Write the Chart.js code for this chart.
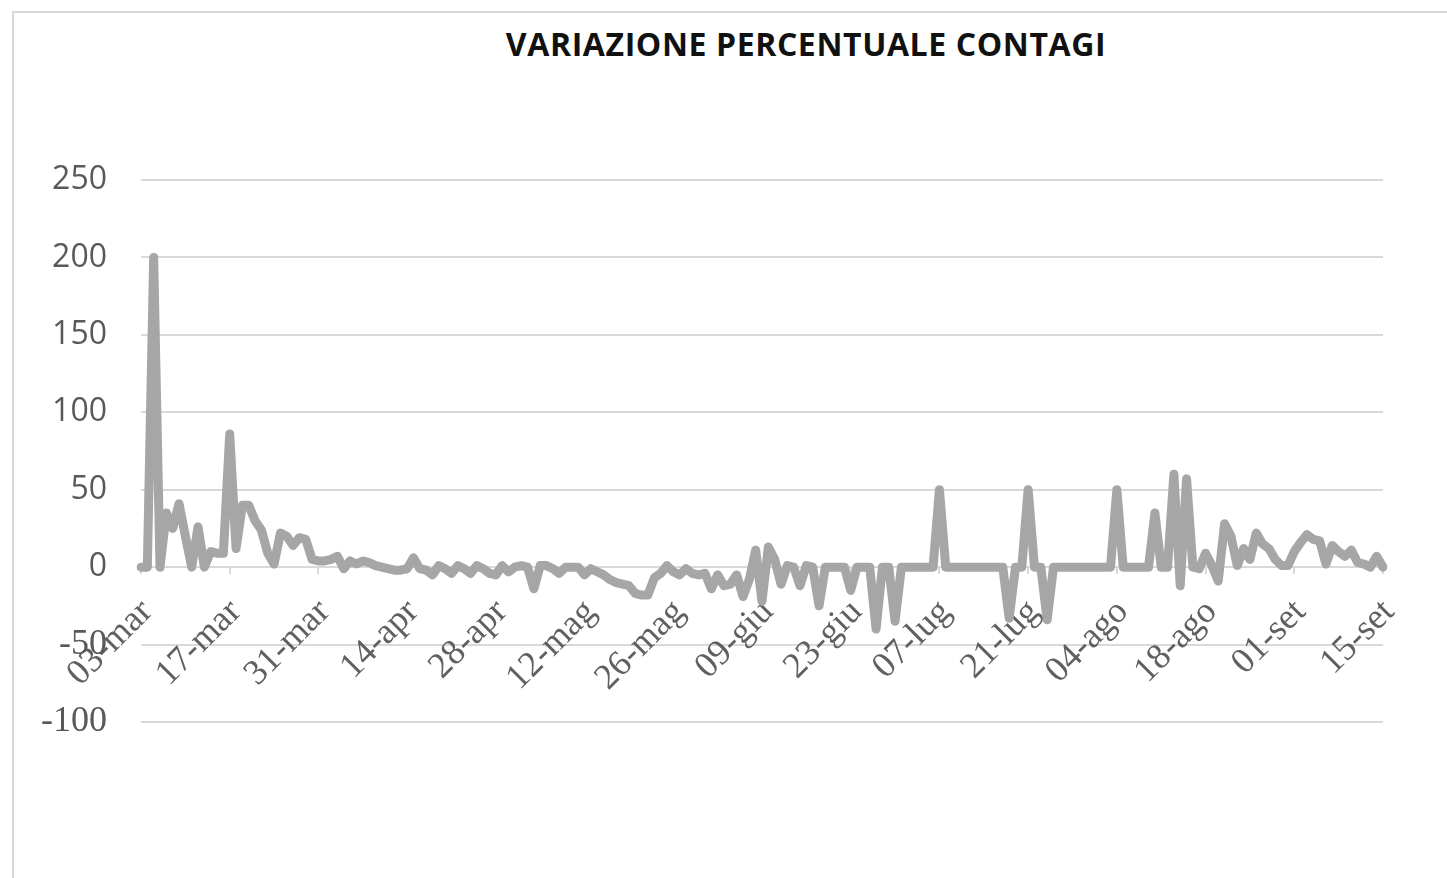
<!DOCTYPE html>
<html lang="it">
<head>
    <meta charset="UTF-8">
    <title>Variazione percentuale contagi</title>
    <script src="https://cdn.jsdelivr.net/npm/chart.js"></script>
    <style>
        body {
            margin: 0;
            background: #ffffff;
            width: 1447px;
            height: 878px;
            overflow: hidden;
            position: relative;
        }
        /* light frame round the chart, as in the original */
        .frame {
            position: absolute;
            left: 12px;
            top: 11px;
            width: 1460px;
            height: 900px;
            border-top: 2px solid #d9d9d9;
            border-left: 2px solid #d9d9d9;
        }
        .title {
            position: absolute;
            left: 165px;
            width: 1282px;
            top: 24px;
            text-align: center;
            font-family: "Open Sans", "Liberation Sans", sans-serif;
            font-weight: 700;
            font-size: 32px;
            letter-spacing: 0.6px;
            line-height: 40px;
            color: #111111;
        }
        canvas {
            position: absolute;
            left: 0;
            top: 0;
        }
    </style>
</head>
<body>
    <div class="frame"></div>
    <div class="title">VARIAZIONE PERCENTUALE CONTAGI</div>
    <canvas id="chart" width="1447" height="878"></canvas>

    <script>
        // month names used for the daily category labels (dd-mmm)
        const monthNames = ['gen', 'feb', 'mar', 'apr', 'mag', 'giu', 'lug', 'ago', 'set', 'ott', 'nov', 'dic'];

        // labels printed on the x axis (every two weeks)
        const tickLabels = ['03-mar', '17-mar', '31-mar', '14-apr', '28-apr', '12-mag', '26-mag', '09-giu',
                            '23-giu', '07-lug', '21-lug', '04-ago', '18-ago', '01-set', '15-set'];

        // daily percentage change, 03-mar .. 15-set
        const variazione = [
            0, 0, 200, 0, 35, 25, 41, 20, 0, 26,
            0, 10, 9, 9, 86, 12, 40, 40, 30, 24,
            9, 2, 22, 20, 14, 19, 18, 5, 4, 4,
            5, 7, -1, 4, 2, 4, 3, 1, 0, -1,
            -2, -2, -1, 6, -1, -2, -5, 1, -1, -4,
            1, -1, -4, 1, -1, -4, -5, 1, -3, 0,
            1, 0, -14, 1, 1, -1, -4, 0, 0, 0,
            -5, -1, -3, -5, -8, -10, -11, -12, -17, -18,
            -18, -7, -4, 1, -3, -5, -1, -4, -5, -4,
            -14, -5, -12, -11, -5, -19, -8, 11, -22, 13,
            5, -11, 1, 0, -12, 1, 0, -25, 0, 0,
            0, 0, -15, 0, 0, 0, -40, 0, 0, -35,
            0, 0, 0, 0, 0, 0, 50, 0, 0, 0,
            0, 0, 0, 0, 0, 0, 0, -33, 0, 0,
            50, 0, 0, -34, 0, 0, 0, 0, 0, 0,
            0, 0, 0, 0, 50, 0, 0, 0, 0, 0,
            35, 0, 0, 60, -12, 57, 0, -1, 9, 1,
            -9, 28, 20, 1, 12, 5, 22, 15, 12, 5,
            1, 1, 10, 16, 21, 18, 17, 2, 14, 10,
            7, 11, 3, 2, 0, 7, 0
        ];

        // one category per day starting 03-mar-2020
        let giorni = [];
        for (let i = 0; i < variazione.length; i++) {
            let d = new Date(Date.UTC(2020, 2, 3 + i));
            let dd = String(d.getUTCDate()).padStart(2, '0');
            giorni.push(dd + '-' + monthNames[d.getUTCMonth()]);
        }

        let ctx = document.getElementById('chart').getContext('2d');

        let chart = new Chart(ctx, {
            type: 'line',
            data: {
                labels: giorni,
                datasets: [{
                    label: 'Variazione %',
                    data: variazione,
                    borderColor: '#a6a6a6',
                    borderWidth: 9,
                    borderJoinStyle: 'round',
                    borderCapStyle: 'round',
                    pointRadius: 0,
                    tension: 0,
                    fill: false
                }]
            },
            options: {
                responsive: false,
                animation: false,
                layout: {
                    padding: { top: 180, right: 64, bottom: 156, left: 0 }
                },
                plugins: {
                    legend: { display: false },
                    title: { display: false },
                    tooltip: { enabled: false }
                },
                scales: {
                    x: {
                        type: 'category',
                        position: { y: 0 },
                        offset: false,
                        border: { display: false },
                        grid: {
                            display: true,
                            drawOnChartArea: false,
                            drawTicks: true,
                            tickLength: 7,
                            color: '#d9d9d9',
                            lineWidth: 2
                        },
                        ticks: {
                            autoSkip: false,
                            minRotation: 45,
                            maxRotation: 45,
                            padding: 17,
                            labelOffset: 6,
                            color: '#606060',
                            font: { family: 'Liberation Serif', size: 36 },
                            callback: function (value, index) {
                                let lbl = this.getLabelForValue(value);
                                return tickLabels.includes(lbl) ? lbl : null;
                            }
                        },
                        afterFit: function (scale) {
                            scale.height = 0;
                        }
                    },
                    y: {
                        min: -100,
                        max: 250,
                        border: { display: false },
                        grid: {
                            color: '#d9d9d9',
                            lineWidth: 2,
                            drawTicks: false
                        },
                        ticks: {
                            stepSize: 50,
                            padding: 34,
                            color: '#595959',
                            font: function (c) {
                                // negative labels look like a serif face in the original
                                if (c.tick && c.tick.value < 0) {
                                    return { family: 'Liberation Serif', size: 36 };
                                }
                                return { family: 'Open Sans', size: 32 };
                            }
                        },
                        afterFit: function (scale) {
                            scale.width = 141;
                        }
                    }
                }
            }
        });
    </script>
</body>
</html>
